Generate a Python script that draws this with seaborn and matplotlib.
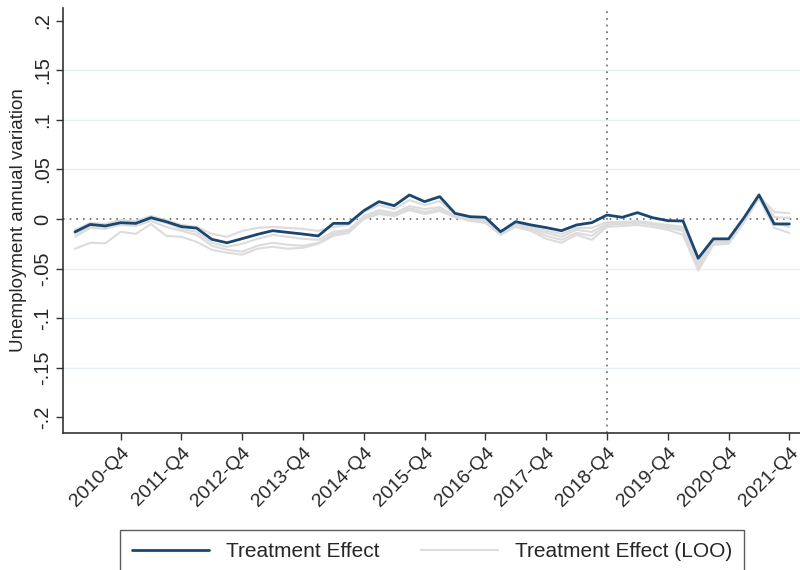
import numpy as np
import pandas as pd
import matplotlib
matplotlib.use("Agg")
import matplotlib.pyplot as plt
import matplotlib.transforms as mtransforms
from matplotlib.lines import Line2D
import seaborn as sns

# Quarterly periods 2010-Q1 .. 2021-Q4
years = list(range(2010, 2022))
quarters = [f"{y}-Q{q}" for y in years for q in range(1, 5)]

treatment_effect = [
    -0.013, -0.0055, -0.007, -0.0037, -0.0044, 0.0013, -0.0027, -0.0077,
    -0.0092, -0.0205, -0.024, -0.0198, -0.0155, -0.0118, -0.0135, -0.0152,
    -0.0171, -0.0044, -0.0044, 0.0084, 0.0175, 0.0134, 0.0242, 0.0175,
    0.0225, 0.0057, 0.0023, 0.0017, -0.0128, -0.0027, -0.006, -0.0087,
    -0.0118, -0.006, -0.0037, 0.004, 0.0017, 0.0064, 0.0013, -0.0017,
    -0.002, -0.0396, -0.020, -0.020, 0.001, 0.0242, -0.005, -0.005,
]

loo_a = [
    -0.030, -0.024, -0.0245, -0.013, -0.015, -0.005, -0.017, -0.018,
    -0.023, -0.031, -0.034, -0.036, -0.030, -0.028, -0.030, -0.029,
    -0.025, -0.017, -0.014, 0.000, 0.005, 0.003, 0.009, 0.005,
    0.008, 0.002, -0.002, -0.004, -0.016, -0.008, -0.012, -0.020,
    -0.024, -0.016, -0.021, -0.008, -0.007, -0.006, -0.008, -0.011,
    -0.016, -0.052, -0.026, -0.025, -0.004, 0.021, -0.009, -0.014,
]
loo_b = [
    -0.018, -0.009, -0.010, -0.005, -0.006, 0.000, -0.004, -0.010,
    -0.013, -0.024, -0.028, -0.025, -0.020, -0.016, -0.018, -0.020,
    -0.021, -0.013, -0.011, 0.003, 0.009, 0.006, 0.013, 0.010,
    0.012, 0.003, -0.001, -0.002, -0.015, -0.006, -0.010, -0.017,
    -0.021, -0.014, -0.017, -0.006, -0.005, -0.004, -0.005, -0.007,
    -0.010, -0.047, -0.024, -0.023, -0.002, 0.023, 0.007, 0.006,
]
loo_c = [
    -0.011, -0.004, -0.005, -0.001, -0.002, 0.003, -0.001, -0.006,
    -0.008, -0.015, -0.018, -0.012, -0.009, -0.008, -0.009, -0.010,
    -0.012, -0.008, -0.006, 0.007, 0.014, 0.010, 0.019, 0.014,
    0.018, 0.005, 0.001, 0.000, -0.014, -0.004, -0.008, -0.012,
    -0.015, -0.009, -0.009, -0.003, -0.003, -0.002, -0.004, -0.006,
    -0.008, -0.044, -0.022, -0.022, 0.000, 0.025, 0.002, 0.001,
]
loo_d = [
    -0.015, -0.008, -0.009, -0.006, -0.007, -0.002, -0.008, -0.012,
    -0.016, -0.027, -0.031, -0.033, -0.027, -0.024, -0.026, -0.027,
    -0.024, -0.015, -0.012, 0.001, 0.007, 0.004, 0.011, 0.007,
    0.010, 0.002, 0.000, -0.002, -0.013, -0.005, -0.009, -0.014,
    -0.018, -0.011, -0.013, -0.005, -0.004, -0.003, -0.006, -0.009,
    -0.012, -0.049, -0.023, -0.024, -0.001, 0.022, -0.004, -0.008,
]

y_ticks = [0.2, 0.15, 0.1, 0.05, 0, -0.05, -0.1, -0.15, -0.2]
y_tick_labels = [".2", ".15", ".1", ".05", "0", "-.05", "-.1", "-.15", "-.2"]
event_quarter = "2018-Q4"

sns.set_style("white")
plt.rcParams["font.family"] = ["Liberation Sans", "DejaVu Sans"]

idx = np.arange(len(quarters))
loo = pd.DataFrame({
    "t": np.tile(idx, 4),
    "value": loo_a + loo_b + loo_c + loo_d,
    "unit": np.repeat(["a", "b", "c", "d"], len(quarters)),
})
main = pd.DataFrame({"t": idx, "value": treatment_effect})

fig = plt.figure(figsize=(8, 5.7), dpi=100)
ax = fig.add_axes([0.07875, 0.2404, 0.9213, 0.7456])

navy = "#1a476f"
loo_color = "#dcdcdc"

# Horizontal grid
for yv in [0.15, 0.1, 0.05, -0.05, -0.1, -0.15]:
    ax.axhline(yv, color="#e6eff1", lw=1.0, zorder=0)

sns.lineplot(data=loo, x="t", y="value", units="unit", estimator=None,
             color=loo_color, lw=1.5, ax=ax, legend=False, zorder=2)
sns.lineplot(data=main, x="t", y="value", color=navy, lw=2.0, ax=ax,
             legend=False, zorder=3)

ax.axhline(0, color="#666666", lw=1.2, ls=(0, (1, 3)), zorder=1)
ax.axvline(quarters.index(event_quarter), color="#666666", lw=1.2,
           ls=(0, (1, 3)), zorder=1)

ax.set_xlim(-0.79, 47.7)
ax.set_ylim(-0.2157, 0.2127)

xt = [i for i, q in enumerate(quarters) if q.endswith("Q4")]
ax.set_xticks(xt)
ax.set_xticklabels([quarters[i] for i in xt], rotation=45, ha="right",
                   rotation_mode="anchor", fontsize=14)
shift = mtransforms.ScaledTranslation(-4 / 100, -2 / 100, fig.dpi_scale_trans)
for lbl in ax.get_xticklabels():
    lbl.set_transform(lbl.get_transform() + shift)
ax.set_yticks(y_ticks)
ax.set_yticklabels(y_tick_labels, rotation=90, va="center", fontsize=14.5)

ax.set_xlabel("")
ax.set_ylabel("Unemployment annual variation", fontsize=13.5, labelpad=4)

for s in ["top", "right"]:
    ax.spines[s].set_visible(False)
for s in ["left", "bottom"]:
    ax.spines[s].set_color("#333333")
    ax.spines[s].set_linewidth(1.2)
ax.tick_params(axis="both", direction="out", length=5, width=1.0,
               color="#333333", left=True, bottom=True, pad=3)

handles = [Line2D([], [], color=navy, lw=2.0),
           Line2D([], [], color=loo_color, lw=1.5)]
leg = fig.legend(handles, ["Treatment Effect", "Treatment Effect (LOO)"],
                 loc="upper center", bbox_to_anchor=(0.54, 0.071), ncol=2,
                 frameon=True, fancybox=False, edgecolor="#333333",
                 fontsize=15, handlelength=3.7, columnspacing=2.0,
                 handletextpad=0.8, borderpad=0.6, borderaxespad=0)
leg.get_frame().set_linewidth(1.0)

fig.savefig("out.png", dpi=100)
